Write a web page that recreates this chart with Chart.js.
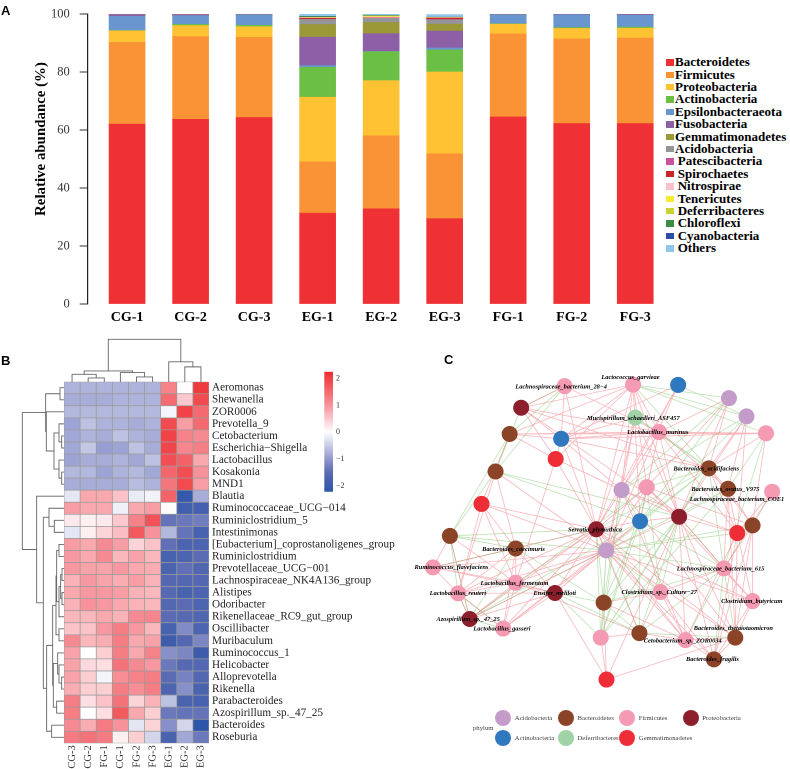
<!DOCTYPE html>
<html>
<head>
<meta charset="utf-8">
<script src="https://cdn.jsdelivr.net/npm/chart.js@4"></script>
<style>
html, body { margin: 0; padding: 0; background: #fff; width: 790px; height: 769px; overflow: hidden; }
canvas { position: absolute; }
.txt { position: absolute; white-space: nowrap; }
.letter { font: bold 13px "Liberation Sans", sans-serif; color: #000; }
.leg { font: bold 13px/12.4px "Liberation Serif", serif; color: #000; }
.sw { position: absolute; }
.netleg { font: 6.7px/10px "Liberation Serif", serif; color: #444; }
.ytitle { font: bold 14.9px/18px "Liberation Serif", serif; color: #000; left: 40px; top: 138.7px; transform: translate(-50%, -50%) rotate(-90deg); }
</style>
</head>
<body>
<canvas id="barChart" style="left:0;top:0;width:660px;height:335px"></canvas>
<canvas id="heatChart" style="left:60px;top:375px;width:340px;height:394px"></canvas>
<canvas id="colTree" style="left:60px;top:335px;width:153px;height:47px"></canvas>
<canvas id="rowTree" style="left:18px;top:378px;width:48px;height:369px"></canvas>
<canvas id="colorBar" style="left:320px;top:365px;width:40px;height:135px"></canvas>
<canvas id="network" style="left:400px;top:350px;width:390px;height:419px"></canvas>
<script>
// --- Panel A data ---
const groups = ['CG-1', 'CG-2', 'CG-3', 'EG-1', 'EG-2', 'EG-3', 'FG-1', 'FG-2', 'FG-3'];
const phyla = ['Bacteroidetes', 'Firmicutes', 'Proteobacteria', 'Actinobacteria', 'Epsilonbacteraeota', 'Fusobacteria',
    'Gemmatimonadetes', 'Acidobacteria', 'Patescibacteria', 'Spirochaetes', 'Nitrospirae', 'Tenericutes',
    'Deferribacteres', 'Chloroflexi', 'Cyanobacteria', 'Others'];
const phylaColors = ['#ef3034', '#f99335', '#ffc233', '#6cbf45', '#6a96cf', '#8c5fa6', '#9b9838', '#939598',
    '#c951a0', '#c9252d', '#f9c2cb', '#f6ec35', '#c7d42f', '#3d8c44', '#2b4ea2', '#90c6ea'];
const bacteroidetes = [62, 63.7, 64.3, 31.3, 32.8, 29.4, 64.5, 62.2, 62.2];
const firmicutes = [28.2, 28.5, 27.6, 17.7, 25.2, 22.4, 28.6, 29.2, 29.5];
const proteobacteria = [4, 3.8, 3.7, 22.3, 19, 28.2, 3.4, 3.6, 3.4];
const actinobacteria = [0.1, 0.4, 0.5, 10.3, 10, 7.6, 0.1, 0.3, 0.4];
const epsilonbacteraeota = [4.9, 3, 3.6, 0.6, 0.1, 0.7, 3.1, 4.4, 4.1];
const fusobacteria = [0.6, 0.3, 0.1, 9.8, 6.1, 5.8, 0.1, 0.2, 0.3];
const gemmatimonadetes = [0.05, 0.05, 0.03, 4.4, 3.9, 2.4, 0.03, 0.03, 0.05];
const acidobacteria = [0.03, 0.03, 0.03, 1.7, 1.4, 1.5, 0.03, 0.03, 0.03];
const patescibacteria = [0.01, 0.01, 0.01, 0.1, 0.05, 0.1, 0.01, 0.01, 0.01];
const spirochaetes = [0.03, 0.02, 0.02, 0.35, 0.1, 0.5, 0.02, 0.02, 0.02];
const nitrospirae = [0.01, 0.01, 0.01, 0.1, 0.3, 0.1, 0.01, 0.01, 0.01];
const tenericutes = [0.01, 0.01, 0.01, 0.1, 0.2, 0.05, 0.01, 0.01, 0.01];
const deferribacteres = [0.01, 0.01, 0.01, 0.1, 0.2, 0.05, 0.01, 0.01, 0.01];
const chloroflexi = [0.01, 0.01, 0.01, 0.2, 0.1, 0.05, 0.01, 0.01, 0.01];
const cyanobacteria = [0.01, 0.01, 0.01, 0.1, 0.05, 0.05, 0.01, 0.01, 0.01];
const others = [0.1, 0.1, 0.1, 0.8, 0.5, 0.9, 0.1, 0.1, 0.1];
const phylaSeries = [bacteroidetes, firmicutes, proteobacteria, actinobacteria, epsilonbacteraeota, fusobacteria,
    gemmatimonadetes, acidobacteria, patescibacteria, spirochaetes, nitrospirae, tenericutes,
    deferribacteres, chloroflexi, cyanobacteria, others];

// --- Panel B data ---
const samples = ['CG-3', 'CG-2', 'FG-1', 'CG-1', 'FG-2', 'FG-3', 'EG-1', 'EG-2', 'EG-3'];
const genera = ['Aeromonas', 'Shewanella', 'ZOR0006', 'Prevotella_9', 'Cetobacterium', 'Escherichia\u2212Shigella',
    'Lactobacillus', 'Kosakonia', 'MND1', 'Blautia', 'Ruminococcaceae_UCG\u2212014', 'Ruminiclostridium_5',
    'Intestinimonas', '[Eubacterium]_coprostanoligenes_group', 'Ruminiclostridium', 'Prevotellaceae_UCG\u2212001',
    'Lachnospiraceae_NK4A136_group', 'Alistipes', 'Odoribacter', 'Rikenellaceae_RC9_gut_group', 'Oscillibacter',
    'Muribaculum', 'Ruminococcus_1', 'Helicobacter', 'Alloprevotella', 'Rikenella', 'Parabacteroides',
    'Azospirillum_sp._47_25', 'Bacteroides', 'Roseburia'];
const heat = [
    [-.75, -.75, -.75, -.75, -.75, -.75, 1.2, .02, 2.1],
    [-.8, -.8, -.8, -.75, -.75, -.75, 1.5, .5, 1.9],
    [-.7, -.7, -.7, -.7, -.7, -.7, -.1, 2, 1.5],
    [-.9, -.6, -.75, -.75, -.8, -.75, 1.9, .9, 1.5],
    [-.85, -.75, -.8, -.6, -.75, -.8, 2, 1.2, 1.1],
    [-.85, -.55, -.95, -.9, -.6, -.8, 1.95, 1.15, 1.25],
    [-.9, -.8, -.8, -.75, -.85, -.6, 1.85, 1.6, .8],
    [-.7, -.7, -.9, -.75, -.7, -.85, 1.55, 1.85, 1],
    [-.8, -.8, -.8, -.8, -.65, -.75, 1.35, 1.9, .9],
    [-.25, .8, .8, .55, -.2, -.12, 1.6, -2.1, -.8],
    [.9, .8, .8, -.15, .8, .9, .03, -1.9, -1.85],
    [.2, .15, .2, .5, 1.2, 1.8, -1.4, -1.35, -1.3],
    [-.25, .15, .4, .6, 1.7, 1, -.7, -1.4, -1.8],
    [.9, .8, 1.1, .9, .4, .55, -1.45, -1.7, -1.7],
    [.95, .8, 1.1, .65, .85, .65, -1.8, -1.7, -1.5],
    [.95, .85, .85, .95, .8, .75, -1.75, -1.45, -1.65],
    [.7, .95, .85, .75, .9, .7, -1.6, -1.6, -1.6],
    [.8, .95, .95, .9, .7, .65, -1.55, -1.75, -1.7],
    [.7, 1, .95, .8, .7, .65, -1.6, -1.5, -1.7],
    [.65, .65, .8, .7, 1.1, 1.15, -1.5, -1.55, -1.65],
    [.55, .55, .95, 1.25, .95, .65, -1.8, -1.15, -1.7],
    [1.1, .65, .75, 1.25, .8, .85, -1.95, -1.6, -1.2],
    [.85, 0, .45, 1.25, .8, 1.2, -1.1, -1.2, -1.95],
    [.85, .35, .3, 1.4, 1.1, .95, -1.35, -1.55, -1.6],
    [.85, .45, -.1, 1.05, 1.2, 1.25, -1.5, -1.25, -1.6],
    [.75, .45, .45, 1.25, 1.05, 1.25, -1.7, -1.1, -1.75],
    [1.25, .3, .55, 1.4, .4, .7, -.6, -1.75, -1.8],
    [1.25, .01, .3, 1.7, .8, .45, -1.35, -1.4, -1.4],
    [1.1, .75, 1.3, 1, -.25, .4, -1.1, -.4, -2.2],
    [1.3, 1.4, 1.3, .15, .45, -.4, -1.75, -.85, -1.35]
];
// dendrogram merges: [left, right, height]; index >= 100 points at merge (index - 100)
const colMerges = [[1, 2, 12], [0, 100, 23], [4, 5, 15], [3, 102, 28], [101, 103, 33], [7, 8, 45], [6, 105, 60], [104, 106, 127]];
const rowMerges = [[0, 1, 12], [4, 5, 7], [3, 101, 15], [7, 8, 7], [6, 103, 15], [102, 104, 30], [2, 105, 53], [100, 106, 55],
    [11, 12, 29], [10, 108, 45], [13, 14, 15], [15, 16, 6], [17, 18, 6], [111, 112, 10], [113, 19, 15], [110, 114, 22],
    [20, 21, 15], [115, 116, 24], [24, 25, 7], [23, 118, 15], [22, 119, 19], [26, 27, 22], [120, 121, 32], [117, 122, 34],
    [28, 29, 37], [123, 124, 52], [109, 125, 62], [9, 126, 82], [107, 127, 125]];
const barTicks = [-2, -1, 0, 1, 2];

// --- Panel C data ---
const netPhyla = ['Acidobacteria', 'Bacteroidetes', 'Firmicutes', 'Proteobacteria', 'Actinobacteria', 'Deferribacteres', 'Gemmatimonadetes'];
const netColors = ['#c49cc9', '#8b4428', '#f49ab3', '#8c1f2b', '#2f78c0', '#9fd3a6', '#ef2d36'];
const nodeX = [563.3, 634.7, 681.7, 734.7, 753, 773.3, 518, 506, 559.7, 637, 661.7, 554, 491.3, 713.7, 622.7, 649, 733.7, 779.7, 476.7, 682.7, 642, 759.3, 743.3, 596.3, 443.7, 512.3, 606.7, 426, 512.3, 452.3, 553.3, 604, 663.3, 729.3, 759.3, 464.3, 499.3, 601, 641.3, 689.3, 741.3, 719, 607];
const nodeY = [379.3, 377.7, 378, 391.7, 410.7, 428.3, 401.7, 429, 434, 412, 427, 455, 468, 464.7, 487.3, 484.3, 486, 489, 501.7, 515, 519.7, 524, 532, 528, 535, 548, 550, 567.7, 583.7, 594.7, 594.3, 604.3, 593.3, 568.7, 602.7, 621.3, 631.3, 640.7, 636, 643.3, 640.7, 663.3, 684.3];
const nodePhylum = [2, 2, 4, 0, 0, 2, 3, 1, 4, 5, 2, 6, 1, 1, 0, 2, 1, 2, 6, 3, 4, 1, 6, 3, 1, 1, 0, 2, 2, 2, 3, 1, 2, 2, 2, 3, 2, 2, 1, 2, 1, 1, 6];
const nodeLabels = [['Lachnospiraceae_bacterium_28\u22124', 559.7, 380], ['Lactococcus_garvieae', 632, 370.3],
    ['Mucispirillum_schaedleri_ASF457', 635, 412.7], ['Lactobacillus_murinus', 660.5, 427.3],
    ['Bacteroides_acidifaciens', 711, 465], ['Bacteroides_ovatus_V975', 731, 486.3],
    ['Lachnospiraceae_bacterium_COE1', 743, 496.7], ['Serratia_plymuthica', 595, 528.7],
    ['Bacteroides_caecimuris', 510, 548.7], ['Ruminococcus_flavefaciens', 445.3, 567.7],
    ['Lactobacillus_fermentum', 511, 584.3], ['Lactobacillus_reuteri', 452, 594.7],
    ['Ensifer_meliloti', 553, 594.5], ['Clostridium_sp._Culture\u221227', 662, 593.7],
    ['Lachnospiraceae_bacterium_615', 726, 569], ['Clostridium_butyricum', 758.5, 603],
    ['Azospirillum_sp._47_25', 462.7, 621.7], ['Lactobacillus_gasseri', 498, 631.7],
    ['Cetobacterium_sp._ZOR0034', 686.5, 644], ['Bacteroides_thetaiotaomicron', 739.3, 631],
    ['Bacteroides_fragilis', 717.5, 663.3]];
const edgesPos = [[0, 6], [0, 8], [0, 10], [0, 23], [1, 6], [1, 7], [1, 8], [1, 10], [1, 11], [1, 14], [1, 15], [1, 19], [1, 23], [1, 20],
    [2, 8], [2, 14], [2, 23], [2, 26], [3, 13], [3, 15], [3, 19], [3, 10], [4, 13], [4, 16], [4, 19], [4, 22], [5, 7], [5, 8], [5, 10], [5, 13], [5, 21],
    [6, 8], [6, 11], [6, 19], [6, 13], [6, 10], [7, 8], [7, 11], [7, 18], [7, 10], [8, 9], [8, 10], [8, 13], [8, 23], [8, 14],
    [9, 14], [9, 23], [9, 26], [9, 19], [10, 14], [10, 19], [10, 16], [10, 22], [10, 15], [10, 20],
    [11, 19], [11, 23], [11, 23], [11, 28], [11, 14], [12, 25], [12, 29], [12, 26], [13, 16], [13, 21], [13, 22],
    [14, 23], [14, 19], [14, 26], [14, 22], [14, 39], [14, 40], [15, 19], [15, 23], [15, 26], [15, 21], [15, 34], [16, 21], [16, 22], [16, 40], [16, 33], [17, 21], [17, 22],
    [18, 25], [18, 23], [18, 29], [18, 28], [18, 26], [19, 26], [19, 20], [19, 22], [19, 34], [19, 40], [19, 39], [19, 41], [20, 23], [20, 36], [20, 30],
    [21, 22], [21, 40], [21, 41], [21, 34], [21, 33], [22, 40], [22, 34], [22, 39], [22, 41],
    [23, 30], [23, 35], [23, 36], [23, 36], [23, 26], [23, 28], [23, 29], [23, 27], [23, 39], [23, 38], [23, 32], [23, 40], [23, 34],
    [24, 27], [24, 35], [24, 28], [25, 28], [25, 29], [25, 30], [25, 36],
    [26, 30], [26, 30], [26, 35], [26, 35], [26, 36], [26, 28], [26, 29], [26, 27], [26, 39], [26, 34], [26, 41], [26, 40],
    [27, 30], [27, 29], [27, 28], [28, 29], [28, 30], [28, 35], [28, 36], [28, 38], [29, 30], [29, 35], [29, 36],
    [30, 35], [30, 36], [30, 36], [30, 42], [31, 32], [31, 39], [32, 33], [32, 39], [32, 38], [32, 41], [33, 34], [34, 40], [34, 41],
    [37, 38], [37, 42], [38, 39], [39, 40], [39, 41], [39, 41], [40, 41], [40, 42], [42, 19], [42, 31], [42, 37]];
const edgesNeg = [[0, 7], [0, 6], [0, 12], [1, 13], [1, 13], [1, 3], [1, 5], [1, 4], [2, 4], [3, 14], [3, 20], [4, 20], [4, 14], [5, 33], [5, 16],
    [6, 12], [7, 12], [7, 24], [12, 24], [12, 20], [12, 19], [9, 10], [9, 13], [10, 13], [10, 13], [8, 11],
    [13, 19], [13, 20], [13, 20], [13, 26], [13, 23], [13, 15], [13, 33], [13, 37], [14, 20], [14, 31], [14, 37], [15, 20], [15, 32], [15, 37],
    [16, 26], [16, 19], [16, 37], [17, 33], [19, 33], [19, 31], [19, 32], [19, 37], [19, 38], [20, 31], [20, 32], [20, 33], [20, 38], [20, 37],
    [22, 26], [23, 31], [23, 37], [24, 23], [24, 26], [24, 29], [24, 25], [24, 35], [25, 27], [25, 31], [25, 35],
    [26, 31], [26, 31], [26, 37], [26, 38], [26, 33], [26, 32], [26, 21], [27, 23], [30, 31], [30, 31], [30, 38], [30, 37],
    [31, 37], [31, 37], [31, 38], [31, 33], [33, 39], [33, 40], [33, 41], [35, 36], [35, 29], [35, 26], [35, 20], [35, 15], [36, 29], [38, 33], [38, 40]];

// --- helpers ---
function mix(a, b, t) {
    return a.map((v, i) => Math.round(v + (b[i] - v) * t));
}
function heatColor(v) {
    const stops = [[-2.25, [42, 85, 168]], [-1.5, [90, 106, 179]], [-1, [146, 153, 206]], [0, [255, 255, 255]], [1, [247, 146, 154]], [2.25, [238, 46, 50]]];
    for (let i = 1; i < stops.length; i++) {
        if (v <= stops[i][0] || i === stops.length - 1) {
            const t = (v - stops[i - 1][0]) / (stops[i][0] - stops[i - 1][0]);
            const c = mix(stops[i - 1][1], stops[i][1], Math.max(0, Math.min(1, t)));
            return `rgb(${c[0]},${c[1]},${c[2]})`;
        }
    }
}
// one dataset per merge, drawn as a bracket; horizontal=false means leaves along x
function treeDatasets(merges, horizontal) {
    const pos = i => i >= 100 ? nodes[i - 100].p : i + 0.5;
    const hgt = i => i >= 100 ? merges[i - 100][2] : 0;
    const nodes = [];
    return merges.map(([a, b, h]) => {
        nodes.push({ p: (pos(a) + pos(b)) / 2 });
        const pts = [[pos(a), hgt(a)], [pos(a), h], [pos(b), h], [pos(b), hgt(b)]];
        return {
            data: pts.map(([p, v]) => horizontal ? { x: v, y: p } : { x: p, y: v }),
            showLine: true, pointRadius: 0, borderColor: '#666', borderWidth: 0.9, clip: false, borderJoinStyle: 'miter'
        };
    });
}
function edgePoints(list) {
    const pts = [];
    list.forEach(([a, b]) => {
        pts.push({ x: nodeX[a], y: nodeY[a] }, { x: nodeX[b], y: nodeY[b] }, { x: NaN, y: NaN });
    });
    return pts;
}
// y scales here have a fixed box; tick padding must not push the plot area in
function fixWidth(w) {
    return s => { s.width = w; s.paddingTop = 0; s.paddingBottom = 0; };
}
const hiddenAxis = { display: false };
Chart.defaults.animation = false;
Chart.defaults.responsive = false;
Chart.defaults.devicePixelRatio = 2;
Chart.defaults.plugins.legend.display = false;
Chart.defaults.plugins.tooltip.enabled = false;
const serif = '"Liberation Serif", serif';

function sizeCanvas(id) {
    const c = document.getElementById(id);
    c.width = parseFloat(c.style.width);
    c.height = parseFloat(c.style.height);
    return c;
}

// --- Panel A ---
new Chart(sizeCanvas('barChart'), {
    type: 'bar',
    data: {
        datasets: phyla.map((name, k) => ({
            label: name,
            data: phylaSeries[k].map((v, i) => ({ x: i, y: v })),
            backgroundColor: phylaColors[k],
            barThickness: 36
        }))
    },
    options: {
        layout: { padding: { top: 14, left: 0, right: 0, bottom: 0 } },
        scales: {
            x: {
                type: 'linear', stacked: true, offset: false, min: -0.62, max: 8.39,
                afterBuildTicks: s => { s.ticks = groups.map((g, i) => ({ value: i })); },
                afterFit: s => { s.height = 31; },
                grid: { display: false, drawTicks: false },
                border: { display: false },
                ticks: { callback: v => groups[v], autoSkip: false, maxRotation: 0, padding: 5, color: '#000', font: { family: serif, size: 14, weight: 'bold' } }
            },
            y: {
                stacked: true, min: 0, max: 100,
                afterFit: fixWidth(87.7),
                grid: { drawOnChartArea: false, tickLength: 8, tickColor: '#333', tickWidth: 1 },
                border: { color: '#222', width: 1.2 },
                ticks: { stepSize: 20, padding: 10, color: '#333', font: { family: serif, size: 12.5 } }
            }
        }
    }
});

// legend of panel A sits to the right of the plot
phyla.forEach((name, i) => {
    const y = 62.3 + 12.4 * i;
    const sw = document.createElement('div');
    sw.className = 'sw';
    sw.style.cssText = `left:665.7px;top:${y - 3.2}px;width:8px;height:6.5px;background:${phylaColors[i]}`;
    document.body.appendChild(sw);
    const t = document.createElement('div');
    t.className = 'txt leg';
    t.style.left = (i < 8 ? 675 : 677.7) + 'px';
    t.style.top = (y - 6.2) + 'px';
    t.textContent = name;
    document.body.appendChild(t);
});

// --- Panel B ---
new Chart(sizeCanvas('heatChart'), {
    type: 'bar',
    data: {
        labels: genera,
        datasets: samples.map((s, c) => ({
            label: s,
            data: genera.map(() => 1), // each cell one unit wide, its value only sets the colour
            backgroundColor: heat.map(row => heatColor(row[c])),
            borderColor: '#9b9b9b', borderWidth: 0.7, borderSkipped: false,
            barPercentage: 1, categoryPercentage: 1
        }))
    },
    options: {
        indexAxis: 'y',
        layout: { padding: { left: 4, top: 6.7, right: 0, bottom: 0 } },
        scales: {
            x: {
                type: 'linear', stacked: true, min: 0, max: 9, position: 'bottom',
                afterBuildTicks: s => { s.ticks = samples.map((n, i) => ({ value: i + 0.5 })); },
                afterFit: s => { s.height = 25.7; },
                grid: { display: false, drawTicks: false }, border: { display: false },
                ticks: { callback: v => samples[Math.floor(v)], autoSkip: false, minRotation: 90, maxRotation: 90, padding: 2, color: '#333', font: { family: serif, size: 10.5 } }
            },
            y: {
                position: 'right', stacked: true,
                afterFit: fixWidth(191),
                grid: { display: false, drawTicks: false }, border: { display: false },
                ticks: { autoSkip: false, padding: 3, color: '#222', font: { family: serif, size: 11.2 } }
            }
        }
    }
});

new Chart(sizeCanvas('colTree'), {
    type: 'scatter',
    data: { datasets: treeDatasets(colMerges, false) },
    options: {
        layout: { padding: { left: 4, right: 4, top: 4.3, bottom: 0 } },
        scales: { x: { ...hiddenAxis, min: 0, max: 9 }, y: { ...hiddenAxis, min: 0, max: 127 } }
    }
});

new Chart(sizeCanvas('rowTree'), {
    type: 'scatter',
    data: { datasets: treeDatasets(rowMerges, true) },
    options: {
        layout: { padding: { left: 4.3, right: 2, top: 3.7, bottom: 3.7 } },
        scales: { x: { ...hiddenAxis, min: 0, max: 125, reverse: true }, y: { ...hiddenAxis, min: 0, max: 30, reverse: true } }
    }
});

new Chart(sizeCanvas('colorBar'), {
    type: 'bar',
    data: {
        labels: ['scale'],
        datasets: [{
            data: [[-2.22, 2.25]], barPercentage: 1, categoryPercentage: 1,
            backgroundColor: ctx => {
                const area = ctx.chart.chartArea;
                if (!area) return '#fff';
                const g = ctx.chart.ctx.createLinearGradient(0, area.bottom, 0, area.top);
                for (let i = 0; i <= 20; i++) g.addColorStop(i / 20, heatColor(-2.22 + 4.47 * i / 20));
                return g;
            }
        }]
    },
    options: {
        layout: { padding: { left: 4.3, top: 6.7, bottom: 8.3, right: 0 } },
        scales: {
            x: { display: false },
            y: {
                position: 'right', min: -2.22, max: 2.25,
                afterBuildTicks: s => { s.ticks = barTicks.map(v => ({ value: v })); },
                afterFit: fixWidth(27),
                grid: { display: false, drawTicks: false }, border: { display: false },
                ticks: { padding: 3, color: '#333', font: { family: serif, size: 8 }, callback: v => String(v).replace('-', '\u2212') }
            }
        }
    }
});

// --- Panel C ---
const nodeTextPlugin = {
    id: 'nodeText',
    afterDatasetsDraw(chart) {
        const { ctx, scales } = chart;
        ctx.save();
        ctx.font = `italic bold 6.4px ${serif}`;
        ctx.fillStyle = '#000';
        ctx.textBaseline = 'middle';
        ctx.textAlign = 'center';
        nodeLabels.forEach(([text, x, y]) => {
            ctx.fillText(text, scales.x.getPixelForValue(x), scales.y.getPixelForValue(y));
        });
        ctx.restore();
    }
};
new Chart(sizeCanvas('network'), {
    type: 'scatter',
    data: {
        datasets: [
            {
                data: nodeX.map((x, i) => ({ x, y: nodeY[i] })),
                backgroundColor: nodePhylum.map(p => netColors[p]),
                pointRadius: 8, borderWidth: 0
            },
            { data: edgePoints(edgesPos), showLine: true, pointRadius: 0, borderColor: 'rgba(238,80,95,0.42)', borderWidth: 0.8, spanGaps: false },
            { data: edgePoints(edgesNeg), showLine: true, pointRadius: 0, borderColor: 'rgba(110,190,90,0.45)', borderWidth: 0.8, spanGaps: false }
        ]
    },
    options: {
        scales: {
            x: { ...hiddenAxis, min: 400, max: 790 },
            y: { ...hiddenAxis, min: 350, max: 769, reverse: true }
        }
    },
    plugins: [nodeTextPlugin]
});

// legend of panel C, two rows of dots
const netLegendSlots = [[503.3, 717.7], [566, 717.7], [627.3, 717.7], [690.7, 717.7], [503.3, 738.3], [566, 738.3], [627.3, 738.3]];
netPhyla.forEach((name, i) => {
    const [x, y] = netLegendSlots[i];
    const dot = document.createElement('div');
    dot.className = 'sw';
    dot.style.cssText = `left:${x - 8}px;top:${y - 8}px;width:16px;height:16px;border-radius:50%;background:${netColors[i]}`;
    document.body.appendChild(dot);
    const t = document.createElement('div');
    t.className = 'txt netleg';
    t.style.left = (x + 11.5) + 'px';
    t.style.top = (y - 5) + 'px';
    t.textContent = name;
    document.body.appendChild(t);
});
[['phylum', 473, 722.7, 'netleg'], ['A', 1, 3, 'letter'], ['B', 1, 353, 'letter'], ['C', 444, 352, 'letter']].forEach(([s, x, y, cls]) => {
    const t = document.createElement('div');
    t.className = 'txt ' + cls;
    t.style.left = x + 'px';
    t.style.top = y + 'px';
    t.textContent = s;
    document.body.appendChild(t);
});
const yTitle = document.createElement('div');
yTitle.className = 'txt ytitle';
yTitle.textContent = 'Relative abundance (%)';
document.body.appendChild(yTitle);
</script>
</body>
</html>
